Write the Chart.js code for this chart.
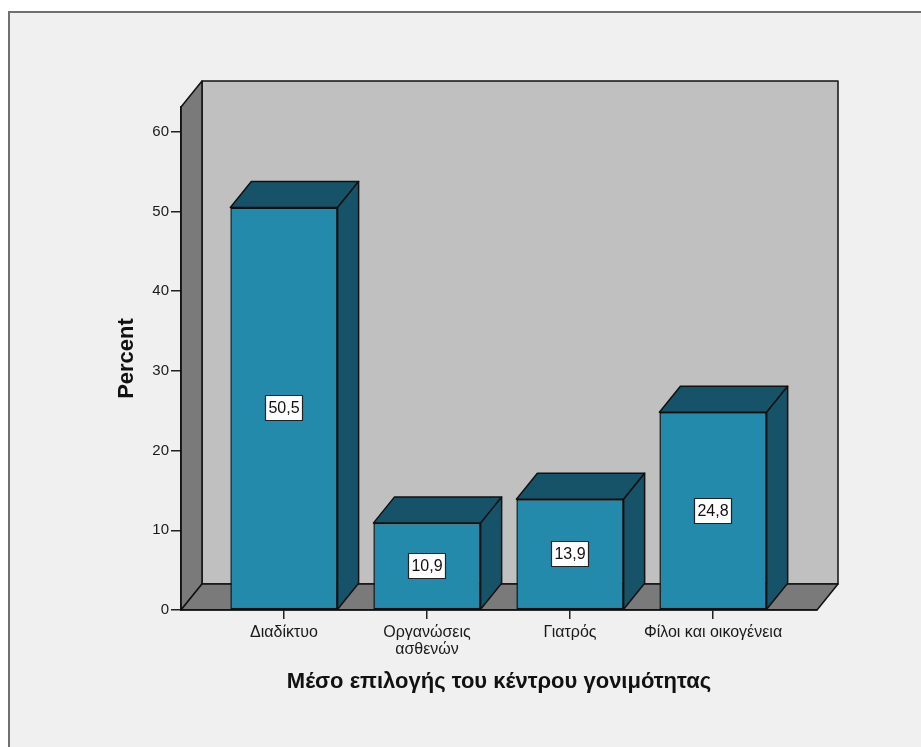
<!DOCTYPE html>
<html>
<head>
<meta charset="utf-8">
<script src="https://cdn.jsdelivr.net/npm/chart.js@4.4.1/dist/chart.umd.min.js"></script>
<style>
  html, body { margin: 0; padding: 0; background: #fff; }
  #wrap { width: 921px; height: 747px; }
</style>
</head>
<body>
<div id="wrap"><canvas id="c" width="921" height="747"></canvas></div>
<script>
/* SPSS-style 3D bar chart, redrawn with Chart.js plus two small drawing plugins. */
const CATEGORIES = ["Διαδίκτυο", ["Οργανώσεις", "ασθενών"], "Γιατρός", "Φίλοι και οικογένεια"];
const PERCENT = [50.5, 10.9, 13.9, 24.8];
const Y_TICKS = [0, 10, 20, 30, 40, 50, 60];
const X_TITLE = "Μέσο επιλογής του κέντρου γονιμότητας";
const Y_TITLE = "Percent";

const FONT = '"Liberation Sans", Arial, sans-serif';
const DX = 21, DY = 26;            // depth of the 3D box
const FRONT = "#248aab", SIDE = "#175368", EDGE = "#111";

function poly(ctx, pts, fill) {
  ctx.beginPath();
  ctx.moveTo(pts[0][0], pts[0][1]);
  for (let i = 1; i < pts.length; i++) ctx.lineTo(pts[i][0], pts[i][1]);
  ctx.closePath();
  ctx.fillStyle = fill;
  ctx.fill();
  ctx.stroke();
}

// frame, back wall, left wall and floor
const walls = {
  id: "walls",
  beforeDraw(chart) {
    const ctx = chart.ctx, a = chart.chartArea;
    ctx.save();
    ctx.fillStyle = "#fff";
    ctx.fillRect(0, 0, chart.width, chart.height);
    ctx.fillStyle = "#f0f0f0";
    ctx.fillRect(9, 12, chart.width, chart.height);
    ctx.strokeStyle = "#707070";
    ctx.lineWidth = 2;
    ctx.strokeRect(9, 12, chart.width + 20, chart.height + 20);

    ctx.strokeStyle = EDGE;
    ctx.lineWidth = 1.5;
    ctx.lineJoin = "round";
    poly(ctx, [[a.left + DX, a.top - DY], [a.right + DX, a.top - DY],
               [a.right + DX, a.bottom - DY], [a.left + DX, a.bottom - DY]], "#c0c0c0");
    poly(ctx, [[a.left, a.top], [a.left + DX, a.top - DY],
               [a.left + DX, a.bottom - DY], [a.left, a.bottom]], "#7a7a7a");
    poly(ctx, [[a.left, a.bottom], [a.left + DX, a.bottom - DY],
               [a.right + DX, a.bottom - DY], [a.right, a.bottom]], "#7a7a7a");
    ctx.restore();
  },
};

// top and side faces of each bar, then the value boxes
const boxes = {
  id: "boxes",
  afterDatasetsDraw(chart) {
    const ctx = chart.ctx;
    const meta = chart.getDatasetMeta(0);
    ctx.save();
    ctx.strokeStyle = EDGE;
    ctx.lineWidth = 1.5;
    ctx.lineJoin = "round";
    meta.data.forEach((bar) => {
      const x0 = bar.x - bar.width / 2, x1 = bar.x + bar.width / 2;
      const t = bar.y, b = bar.base;
      poly(ctx, [[x0, t], [x0 + DX, t - DY], [x1 + DX, t - DY], [x1, t]], SIDE);
      poly(ctx, [[x1, t], [x1 + DX, t - DY], [x1 + DX, b - DY], [x1, b]], SIDE);
    });

    ctx.font = "16px " + FONT;
    ctx.textAlign = "center";
    ctx.textBaseline = "middle";
    ctx.lineWidth = 1.2;
    meta.data.forEach((bar, i) => {
      const txt = PERCENT[i].toFixed(1).replace(".", ",");
      const cx = Math.round(bar.x), cy = Math.round((bar.y + bar.base) / 2);
      const w = Math.round(ctx.measureText(txt).width) + 6, h = 25;
      ctx.fillStyle = "#fff";
      ctx.fillRect(cx - w / 2, cy - h / 2, w, h);
      ctx.strokeStyle = "#222";
      ctx.strokeRect(cx - w / 2, cy - h / 2, w, h);
      ctx.fillStyle = "#111";
      ctx.fillText(txt, cx, cy + 1);
    });
    ctx.restore();
  },
};

new Chart(document.getElementById("c"), {
  type: "bar",
  data: {
    datasets: [{
      data: PERCENT.map((v, i) => ({ x: i, y: v })),
      backgroundColor: FRONT,
      borderColor: EDGE,
      borderWidth: 1.5,
      borderSkipped: false,
      barPercentage: 0.75,
      categoryPercentage: 1,
    }],
  },
  options: {
    responsive: false,
    animation: false,
    layout: { padding: { left: 0, top: 107, right: 104, bottom: 0 } },
    plugins: { legend: { display: false }, tooltip: { enabled: false } },
    scales: {
      x: {
        type: "linear",
        offset: false,
        min: -0.72, max: 3.727,
        afterBuildTicks: (s) => { s.ticks = CATEGORIES.map((c, i) => ({ value: i })); },
        afterFit: (s) => { s.height = 137; },
        ticks: {
          autoSkip: false, maxRotation: 0, padding: 5, color: "#1a1a1a",
          font: { family: FONT, size: 16, lineHeight: 1.05 },
          callback: (v) => CATEGORIES[v],
        },
        grid: { offset: false, drawOnChartArea: false, drawTicks: true, tickLength: 9, color: "#222", lineWidth: 1.5 },
        border: { display: true, color: EDGE, width: 1.5 },
        title: {
          display: true, text: X_TITLE, color: "#111",
          font: { family: FONT, size: 22, weight: "bold" },
          padding: { top: 0, bottom: 52 },
        },
      },
      y: {
        min: 0, max: 63.1,
        afterBuildTicks: (s) => { s.ticks = Y_TICKS.map((v) => ({ value: v })); },
        afterFit: (s) => { s.width = 181; },
        ticks: { padding: 2, color: "#1a1a1a", font: { family: FONT, size: 15 } },
        grid: { drawOnChartArea: false, drawTicks: true, tickLength: 10, color: "#222", lineWidth: 1.5 },
        border: { display: true, color: EDGE, width: 1.5 },
        title: {
          display: true, text: Y_TITLE, color: "#111",
          font: { family: FONT, size: 22, weight: "bold" },
          padding: { top: 114, bottom: 0 },
        },
      },
    },
  },
  plugins: [walls, boxes],
});
</script>
</body>
</html>
